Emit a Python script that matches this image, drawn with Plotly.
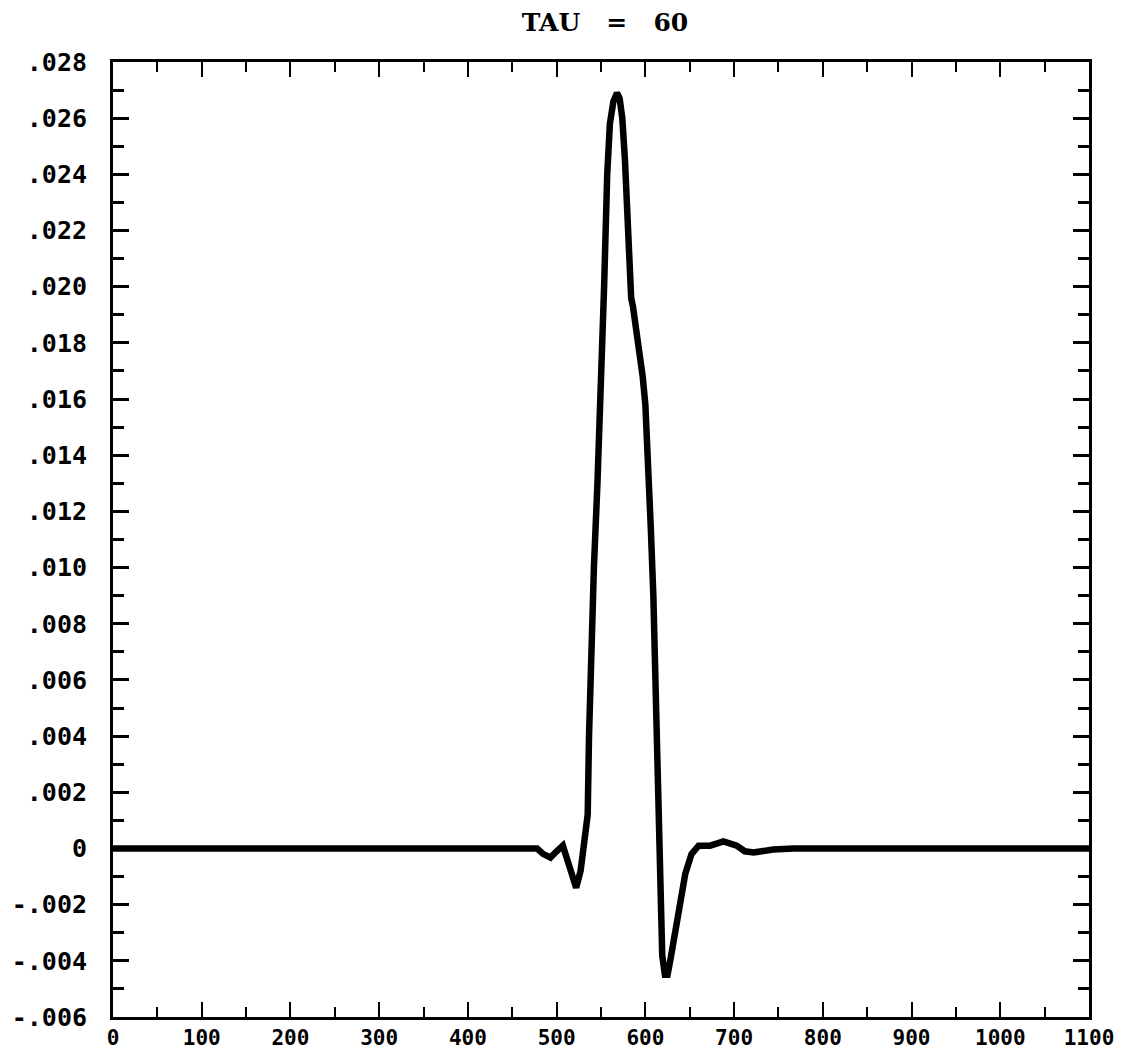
import plotly.graph_objects as go

# Data
x_vals = [0, 50, 100, 150, 200, 250, 300, 350, 400, 450, 470, 478, 485, 493, 500, 507,
          515, 522, 527, 532, 535, 536.5, 539, 542, 546, 550, 553.5, 557, 560, 564, 568,
          571, 574, 577, 581, 584, 586, 592, 597, 600, 603, 606, 609, 612, 615, 617,
          619, 622, 625, 628, 633, 639, 645, 652, 660, 673, 688, 703, 712, 722, 744, 767,
          800, 850, 900, 950, 1000, 1050, 1100]
y_vals = [0.0, 0.0, 0.0, 0.0, 0.0, 0.0, 0.00003, 0.00003, 0.00003, 0.00005, 0.00005, 0.0,
          -0.0002, -0.00032, -0.0001, 0.0001,
          -0.0007, -0.0014, -0.0008, 0.0004, 0.0012, 0.0040, 0.0070, 0.0100, 0.0130, 0.0160,
          0.0200, 0.0240, 0.0258, 0.0266, 0.0269,
          0.0267, 0.0260, 0.0245, 0.0215, 0.0196, 0.0193, 0.0181, 0.0168, 0.0158, 0.0140,
          0.0115, 0.0090, 0.0050, 0.0015, -0.0005,
          -0.0038, -0.0045, -0.0045, -0.0040, -0.0030, -0.0020, -0.0009, -0.0002, 0.0001, 0.0001,
          0.00025, 0.0001, -0.0001, -0.00014, -0.00004, 0.0,
          0.0, 0.0, 0.0, 0.0, 0.0, 0.0, 0.0]

x_ticks = [0, 100, 200, 300, 400, 500, 600, 700, 800, 900, 1000, 1100]
x_ticktext = ["0", "100", "200", "300", "400", "500", "600", "700", "800", "900", "1000", "1100"]
y_ticks = [-0.006, -0.004, -0.002, 0, 0.002, 0.004, 0.006, 0.008, 0.010, 0.012, 0.014,
           0.016, 0.018, 0.020, 0.022, 0.024, 0.026, 0.028]
y_ticktext = ["-.006", "-.004", "-.002", "0", ".002", ".004", ".006", ".008", ".010", ".012",
              ".014", ".016", ".018", ".020", ".022", ".024", ".026", ".028"]
title_text = "TAU\u00a0\u00a0\u00a0=\u00a0\u00a0\u00a060"

fig = go.Figure()
fig.add_trace(go.Scatter(x=x_vals, y=y_vals, mode="lines",
                         line=dict(color="black", width=6.5), showlegend=False))

fig.update_layout(
    width=1126, height=1053,
    margin=dict(l=113, r=37, t=62, b=36),
    paper_bgcolor="white", plot_bgcolor="white",
    title=dict(text="<b>" + title_text + "</b>", x=605 / 1126, xanchor="center",
               xref="container",
               y=1 - 22 / 1053, yanchor="middle", yref="container",
               font=dict(family="DejaVu Serif", size=25, color="black")),
)
fig.update_xaxes(
    range=[0, 1100], tickmode="array", tickvals=x_ticks, ticktext=x_ticktext,
    ticks="inside", ticklen=15, tickwidth=2, tickcolor="black",
    minor=dict(dtick=50, ticks="inside", ticklen=10, tickwidth=2, tickcolor="black"),
    showline=True, linecolor="black", linewidth=3, mirror="ticks",
    showgrid=False, zeroline=False, automargin=False,
    tickfont=dict(family="DejaVu Sans Mono", size=21, color="black", weight="bold"),
    ticklabelstandoff=0,
)
fig.update_yaxes(
    range=[-0.006, 0.028], tickmode="array", tickvals=y_ticks, ticktext=y_ticktext,
    ticks="inside", ticklen=16, tickwidth=3, tickcolor="black",
    minor=dict(dtick=0.001, tick0=0, ticks="inside", ticklen=11, tickwidth=3, tickcolor="black"),
    showline=True, linecolor="black", linewidth=3, mirror="ticks",
    showgrid=False, zeroline=False, automargin=False,
    tickfont=dict(family="DejaVu Sans Mono", size=25, color="black", weight="bold"),
    ticklabelstandoff=18,
)

fig.write_html("out.html")
